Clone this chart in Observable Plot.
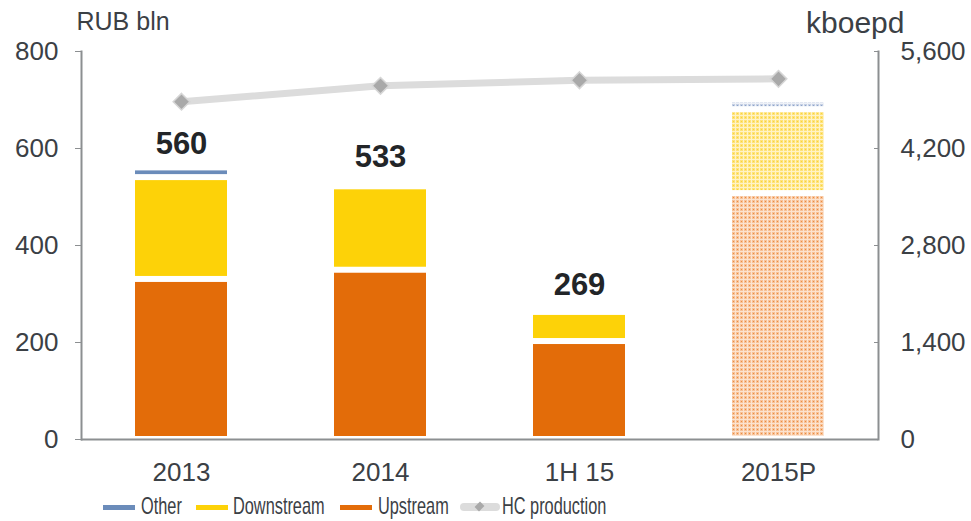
<!DOCTYPE html>
<html><head><meta charset="utf-8">
<script src="https://cdn.jsdelivr.net/npm/d3@7"></script>
<script src="https://cdn.jsdelivr.net/npm/@observablehq/plot@0.6"></script>
<style>
html,body{margin:0;padding:0;background:#fff;}
body{width:971px;height:521px;overflow:hidden;font-family:"Liberation Sans",Arial,sans-serif;}
#legend{position:relative;width:971px;height:31px;font-family:"Liberation Sans",Arial,sans-serif;font-size:24px;color:#3b4045;}
#legend .sw{position:absolute;height:5px;top:15px;}
#legend .tx{position:absolute;top:2px;line-height:28px;white-space:nowrap;transform:scaleX(0.68);transform-origin:left center;}
</style></head><body>
<div id="chart"></div>
<div id="legend"></div>
<script>
const periods = ["2013", "2014", "1H 15", "2015P"];
const upstream = [330, 349, 202, 507];
const downstream = [210, 172, 60, 173];
const other = [20, 12, 7, 20];
const totalLabels = ["560", "533", "269", ""];
const totals = [560, 533, 269, 700];
const hcProduction = [4875, 5105, 5185, 5205];
const leftTicks = [0, 200, 400, 600, 800];
const rightTicks = [0, 1400, 2800, 4200, 5600];
const seriesNames = ["Upstream", "Downstream", "Other"];
const seriesColors = {Upstream: "#E36C09", Downstream: "#FDD208", Other: "#6B8CBA"};
const seriesPatterns = {Upstream: "url(#patUp)", Downstream: "url(#patDown)", Other: "url(#patOther)"};
const plannedPeriod = "2015P";
const legendItems = ["Other", "Downstream", "Upstream", "HC production"];

const seriesValues = {Upstream: upstream, Downstream: downstream, Other: other};
const rows = [];
periods.forEach((p, i) => {
  seriesNames.forEach(s => {
    rows.push({period: p, series: s, value: seriesValues[s][i],
      fill: p === plannedPeriod ? seriesPatterns[s] : seriesColors[s]});
  });
});
const totalRows = periods.map((p, i) => ({period: p, total: totals[i], label: totalLabels[i]}));
const hcRows = periods.map((p, i) => ({period: p, prod: hcProduction[i]}));
const ratio = leftTicks[leftTicks.length - 1] / rightTicks[rightTicks.length - 1];

const axisColor = "#8c8f91";
const textColor = "#3b4045";

const chart = Plot.plot({
  width: 971,
  height: 490,
  marginLeft: 81,
  marginRight: 93,
  marginTop: 51,
  marginBottom: 51,
  style: {fontFamily: "'Liberation Sans', Arial, sans-serif", color: textColor, background: "#fff"},
  x: {domain: periods, paddingInner: 0.538, paddingOuter: 0.27, label: null},
  y: {domain: [0, 800], label: null},
  color: {type: "identity"},
  marks: [
    Plot.barY(rows, {x: "period", y: "value", fill: "fill", insetTop: 3, insetBottom: 3}),
    Plot.line(hcRows, {x: "period", y: d => d.prod * ratio, stroke: "#dcdcdc", strokeWidth: 7, curve: "linear"}),
    Plot.dot(hcRows, {x: "period", y: d => d.prod * ratio, symbol: "diamond2", r: 7.5, fill: "#a9a9a9", stroke: "#d6d6d6", strokeWidth: 1.5}),
    Plot.text(totalRows, {x: "period", y: "total", text: "label", dy: -24, fontSize: 31, fontWeight: "bold", fill: "#222528"}),
    Plot.ruleY([0], {stroke: axisColor, strokeWidth: 2}),
    Plot.frame({anchor: "left", stroke: axisColor, strokeWidth: 2}),
    Plot.frame({anchor: "right", stroke: axisColor, strokeWidth: 2}),
    Plot.axisY({anchor: "left", ticks: leftTicks, tickSize: 6, tickPadding: 17, stroke: axisColor, fontSize: 26, fill: textColor, tickFormat: d => String(d), label: null}),
    Plot.axisY({anchor: "right", ticks: leftTicks, tickSize: -5, tickPadding: 27, stroke: axisColor, fontSize: 26, fill: textColor,
      tickFormat: d => d3.format(",")(Math.round(d / ratio)), label: null}),
    Plot.axisX({tickSize: 0, tickPadding: 23, fontSize: 26, fill: textColor, label: null}),
    Plot.text(["RUB bln"], {text: d => d, frameAnchor: "top-left", lineAnchor: "middle", dx: -5, dy: -30, textAnchor: "start", fontSize: 25, fill: textColor}),
    Plot.text(["kboepd"], {text: d => d, frameAnchor: "top-right", lineAnchor: "middle", dx: 26, dy: -28, textAnchor: "end", fontSize: 30, fill: textColor})
  ]
});

// Patterns for the planned (2015P) bar
const defs = d3.select(chart).insert("defs", ":first-child");
function makePattern(id, bg, line, dot) {
  const p = defs.append("pattern").attr("id", id).attr("patternUnits", "userSpaceOnUse")
    .attr("width", 4).attr("height", 4);
  p.append("rect").attr("width", 4).attr("height", 4).attr("fill", bg);
  p.append("rect").attr("x", 3).attr("width", 1).attr("height", 4).attr("fill", line);
  p.append("rect").attr("y", 3).attr("width", 4).attr("height", 1).attr("fill", line);
  p.append("rect").attr("x", 1).attr("y", 1).attr("width", 1).attr("height", 1).attr("fill", dot);
}
makePattern("patUp", "#F7C197", "#FCE3CF", "#EB8C40");
makePattern("patDown", "#FEE27A", "#FFF3C6", "#F9D43A");
makePattern("patOther", "#C5D0E4", "#EEF1F7", "#8FA5CB");

document.getElementById("chart").appendChild(chart);

// Legend
const legend = d3.select("#legend");
const legendLayout = [
  {name: "Other", sw: 103, tx: 141, color: seriesColors.Other},
  {name: "Downstream", sw: 196, tx: 233, color: seriesColors.Downstream},
  {name: "Upstream", sw: 340, tx: 378, color: seriesColors.Upstream},
  {name: "HC production", sw: 460, tx: 502, color: null}
];
legendLayout.forEach(item => {
  if (item.color) {
    legend.append("div").attr("class", "sw").style("left", item.sw + "px").style("width", "32px").style("background", item.color);
  } else {
    legend.append("div").attr("class", "sw").style("left", item.sw + "px").style("width", "40px")
      .style("height", "8px").style("top", "13px").style("border-radius", "4px").style("background", "#dcdcdc");
    legend.append("div").style("position", "absolute").style("left", (item.sw + 16) + "px").style("top", "13px")
      .style("width", "7px").style("height", "7px").style("background", "#a9a9a9").style("transform", "rotate(45deg) scale(0.9,1.1)");
  }
  legend.append("div").attr("class", "tx").style("left", item.tx + "px").text(item.name);
});
</script>
</body></html>
